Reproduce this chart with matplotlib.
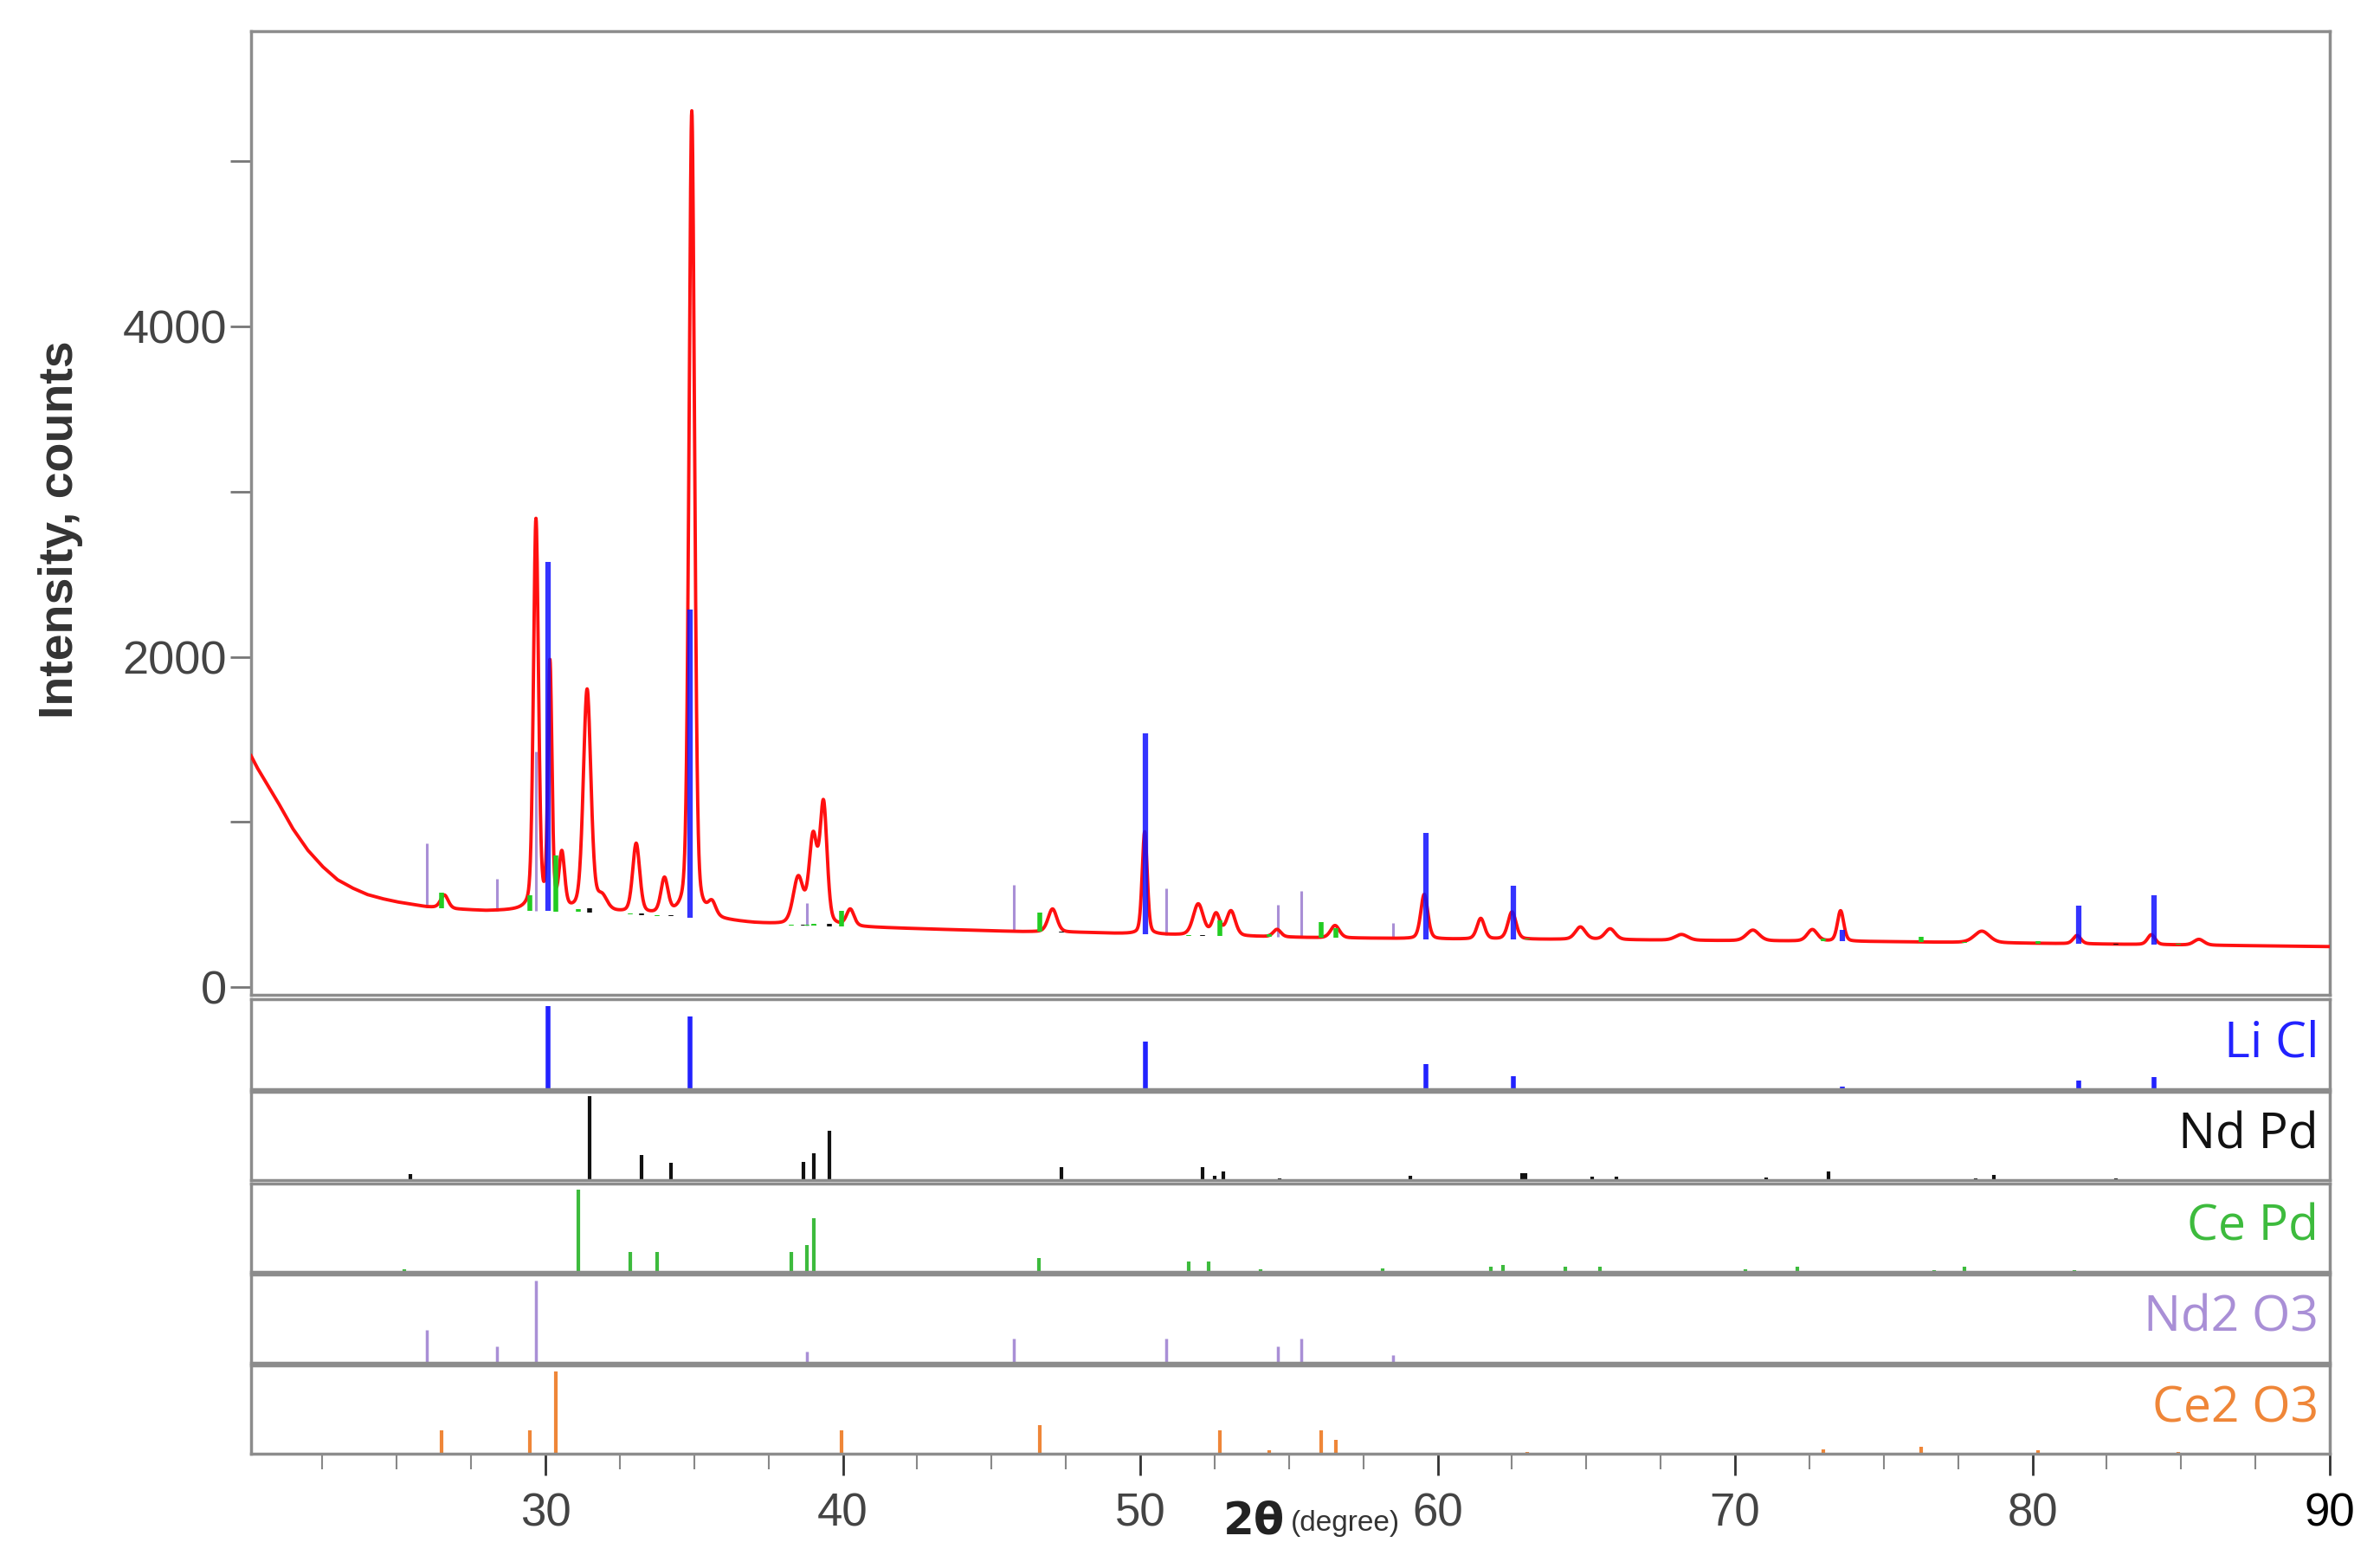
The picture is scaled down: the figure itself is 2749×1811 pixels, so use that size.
import numpy as np
import matplotlib
matplotlib.use("Agg")
import matplotlib.pyplot as plt

bg_2theta = [20.1, 20.3, 20.6, 21.0, 21.5, 22.0, 22.5, 23.0, 23.5, 24.0, 24.5, 25.0, 26.0,
             27.0, 28.0, 29.0, 30.0, 31.0, 32.0, 33.0, 34.0, 35.0, 36.0, 37.0, 38.0, 40.0,
             42.0, 44.0, 46.0, 48.0, 50.0, 52.0, 54.0, 56.0, 58.0, 60.0, 65.0, 70.0, 75.0,
             80.0, 85.0, 90.0]
bg_counts = [1400, 1330, 1240, 1120, 960, 830, 730, 650, 600, 560, 535, 515, 485,
             470, 460, 460, 460, 455, 450, 440, 430, 420, 400, 385, 375, 365,
             355, 345, 335, 330, 320, 310, 305, 298, 295, 290, 288, 280, 275,
             265, 255, 245]

peak_pos = [26.6, 29.68, 30.15, 30.55, 31.4, 31.9, 33.05, 34.0, 34.92, 35.6, 38.5, 39.0,
            39.35, 40.25, 47.05, 50.15, 51.95, 52.55, 53.05, 54.6, 56.55, 59.55, 61.45,
            62.5, 64.8, 65.8, 68.2, 70.6, 72.6, 73.55, 78.3, 81.5, 84.0, 85.6]
peak_height = [80, 2360, 1480, 330, 1340, 80, 420, 210, 4880, 80, 280, 520,
               720, 100, 140, 620, 190, 130, 150, 45, 75, 270, 125,
               165, 75, 65, 35, 65, 70, 185, 70, 50, 60, 35]
peak_fwhm = [0.3, 0.2, 0.16, 0.22, 0.3, 0.4, 0.28, 0.28, 0.22, 0.3, 0.4, 0.32,
             0.28, 0.3, 0.35, 0.2, 0.4, 0.3, 0.35, 0.3, 0.35, 0.28, 0.3,
             0.32, 0.4, 0.4, 0.5, 0.5, 0.4, 0.25, 0.6, 0.3, 0.3, 0.4]

# reference cards: line positions and relative intensities (fraction of own panel)
licl_pos = [30.08, 34.87, 50.16, 59.6, 62.55, 73.6, 81.55, 84.1]
licl_rel = [0.92, 0.81, 0.53, 0.28, 0.14, 0.03, 0.10, 0.13]

ndpd_pos = [25.46, 31.48, 33.24, 34.21, 38.68, 39.03, 39.54, 47.36, 52.1, 52.5, 52.8,
            54.7, 59.07, 62.85, 62.95, 65.2, 66.0, 71.05, 73.15, 78.1, 78.7, 82.8]
ndpd_rel = [0.07, 0.95, 0.28, 0.2, 0.21, 0.3, 0.56, 0.15, 0.15, 0.05, 0.1,
            0.02, 0.05, 0.08, 0.08, 0.04, 0.04, 0.03, 0.1, 0.02, 0.06, 0.02]

cepd_pos = [25.25, 31.1, 32.85, 33.75, 38.26, 38.8, 39.03, 46.6, 51.64, 52.3, 54.05,
            58.16, 61.8, 62.2, 64.3, 65.45, 70.35, 72.1, 76.7, 77.7, 81.4]
cepd_rel = [0.03, 0.93, 0.23, 0.23, 0.23, 0.3, 0.61, 0.16, 0.12, 0.12, 0.03,
            0.04, 0.06, 0.08, 0.06, 0.06, 0.03, 0.06, 0.02, 0.06, 0.02]

nd2o3_pos = [26.02, 28.36, 29.68, 38.8, 45.74, 50.88, 54.63, 55.4, 58.5]
nd2o3_rel = [0.37, 0.19, 0.93, 0.13, 0.27, 0.27, 0.19, 0.27, 0.09]

ce2o3_pos = [26.5, 29.47, 30.35, 39.95, 46.62, 52.68, 54.35, 56.07, 56.58, 63.0,
             72.98, 76.25, 80.2, 84.9]
ce2o3_rel = [0.26, 0.26, 0.93, 0.26, 0.32, 0.26, 0.04, 0.26, 0.16, 0.02,
             0.05, 0.08, 0.04, 0.02]

phase_names = ["Li Cl", "Nd Pd", "Ce Pd", "Nd2 O3", "Ce2 O3"]
phase_colors = ["#2222ff", "#111111", "#3dbb3d", "#a98fd6", "#ef8638"]

W, H = 2749, 1811


def box(left, top, right, bottom):
    return [left / W, 1 - bottom / H, (right - left) / W, (bottom - top) / H]


def style_frame(a):
    for s in a.spines.values():
        s.set_color("#8c8c8c")
        s.set_linewidth(2.5)


fig = plt.figure(figsize=(W / 100, H / 100), dpi=100)

# main scan panel
ax = fig.add_axes(box(290, 36, 2691, 1149))
x = np.arange(20.1, 90.0001, 0.01)
y = np.interp(x, bg_2theta, bg_counts)
for p, h, w in zip(peak_pos, peak_height, peak_fwhm):
    d = (x - p) / w
    y = y + h * (0.7 * np.exp(-4 * np.log(2) * d ** 2) + 0.3 / (1 + 4 * d ** 2))


def overlay(pos, rel, scale, color, lw, alpha=1.0, z=3):
    base = np.interp(pos, bg_2theta, bg_counts)
    ax.vlines(pos, base, base + np.array(rel) * scale, colors=color, lw=lw,
              alpha=alpha, zorder=z)


overlay(nd2o3_pos, nd2o3_rel, 1040, phase_colors[3], 2.2, z=2)
ax.plot(x, y, color="#ff1010", lw=2.8, zorder=3)
overlay(licl_pos, licl_rel, 2300, "#1010ff", 4.5, alpha=0.85, z=4)
overlay(ce2o3_pos, ce2o3_rel, 365, "#22cc22", 4.0, z=4)
overlay(ndpd_pos, ndpd_rel, 25, "#111111", 4.0, z=4)
overlay(cepd_pos, cepd_rel, 20, "#22cc22", 4.0, z=4)

ax.set_xlim(20.1, 90)
ax.set_ylim(-47, 5788)
ax.set_xticks([])
ax.set_yticks([0, 2000, 4000])
ax.set_yticks([1000, 3000, 5000], minor=True)
ax.tick_params(axis="y", which="both", direction="out", length=17, width=2,
               color="#777777", labelsize=39, labelcolor="#444444", pad=3)
for t in ax.get_yticklabels():
    t.set_fontfamily("Liberation Sans")
style_frame(ax)

fig.text(70 / W, 1 - 612 / H, "Intensity, counts", rotation=90, ha="center",
         va="center", fontsize=40, fontweight="bold", color="#333333",
         family="Liberation Sans")

# reference card panels
panel_rows = [(1154, 1258), (1261, 1363), (1367, 1469), (1472, 1574), (1577, 1679)]
cards = [(licl_pos, licl_rel), (ndpd_pos, ndpd_rel), (cepd_pos, cepd_rel),
         (nd2o3_pos, nd2o3_rel), (ce2o3_pos, ce2o3_rel)]
widths = [4.0, 3.0, 3.0, 2.5, 3.0]

for i, ((top, bottom), (pos, rel)) in enumerate(zip(panel_rows, cards)):
    sa = fig.add_axes(box(290, top, 2691, bottom))
    sa.vlines(pos, 0, rel, colors=phase_colors[i], lw=widths[i])
    sa.set_xlim(20.1, 90)
    sa.set_ylim(0, 1)
    sa.set_yticks([])
    sa.text(0.9946, 0.5, phase_names[i], transform=sa.transAxes, ha="right",
            va="center", fontsize=41, color=phase_colors[i], family="Open Sans")
    style_frame(sa)
    if i < len(panel_rows) - 1:
        sa.set_xticks([])
    else:
        sa.set_xticks(np.arange(30, 91, 10))
        sa.set_xticks(np.arange(22.5, 90, 2.5), minor=True)
        sa.tick_params(axis="x", which="major", direction="out", length=18, width=2,
                       color="#333333", labelsize=38, labelcolor="#444444", pad=14)
        sa.tick_params(axis="x", which="minor", direction="out", length=13, width=1.5,
                       color="#888888")
        for t in sa.get_xticklabels():
            t.set_fontfamily("Liberation Sans")
        sa.get_xticklabels()[-1].set_color("black")
        sa.text(52.8, -0.52, "2θ", transform=sa.get_xaxis_transform(), ha="left",
                va="top", fontsize=37, fontweight="bold", color="#222222",
                family="DejaVu Sans")
        sa.text(55.05, -0.64, "(degree)", transform=sa.get_xaxis_transform(),
                ha="left", va="top", fontsize=24, color="#333333",
                family="Liberation Sans")

fig.savefig("out.png", dpi=100, facecolor="white")
